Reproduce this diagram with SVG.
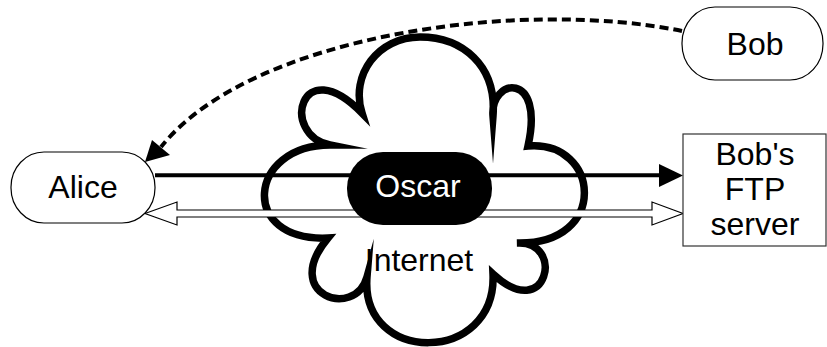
<svg xmlns="http://www.w3.org/2000/svg" width="827" height="347" viewBox="0 0 827 347">
<style>
.node{fill:#fff;stroke:#000;stroke-width:1.2}
.lbl{font-family:"Liberation Sans",Arial,sans-serif;font-size:32px;text-anchor:middle;fill:#000}
.cloud{fill:#fff;stroke:#000;stroke-width:7.5;stroke-linejoin:miter;stroke-miterlimit:20}
.head{fill:#000;stroke:none}
</style>
<rect width="827" height="347" fill="#fff"/>
<g id="internet">
<path class="cloud" d="M 362 113 C 350 75, 378 37, 420 37 C 462 37, 497 65, 493 116 C 490 78, 545 70, 528 146 C 600 140, 610 245, 517 243 C 565 240, 548 325, 493 274 C 497 365, 360 365, 367 277 C 355 320, 280 295, 328 238 C 238 242, 248 145, 330 145 C 280 135, 300 50, 362 113 Z"/>
<text class="lbl" x="419" y="271">Internet</text>
</g>
<g id="connectors">
<path d="M 682 31 C 520 -2, 250 35, 161 147" fill="none" stroke="#000" stroke-width="4" stroke-dasharray="9 5"/>
<polygon class="head" points="145,162 152,140 170,155"/>
<line x1="155" y1="175.3" x2="661" y2="175.3" stroke="#000" stroke-width="4"/>
<polygon class="head" points="659,164 683,175.5 659,187"/>
<path d="M 145 213.5 L 177 202 L 177 210 L 652 210 L 652 202 L 683 213.5 L 652 225 L 652 217 L 177 217 L 177 225 Z" fill="#fff" stroke="#000" stroke-width="1.2" stroke-linejoin="miter"/>
</g>
<g id="alice">
<rect class="node" x="11" y="152" width="144" height="71" rx="33" ry="35"/>
<text class="lbl" x="83" y="198">Alice</text>
</g>
<g id="bob">
<rect class="node" x="682" y="7" width="141" height="73" rx="33" ry="36"/>
<text class="lbl" x="755" y="55">Bob</text>
</g>
<g id="oscar">
<rect x="347" y="152" width="145" height="73" rx="36" ry="36" fill="#000"/>
<text class="lbl" x="418" y="197" style="fill:#fff">Oscar</text>
</g>
<g id="ftp">
<rect class="node" x="683" y="134" width="143" height="112" style="stroke:#333"/>
<text class="lbl" x="755" y="165">Bob's</text>
<text class="lbl" x="755" y="200">FTP</text>
<text class="lbl" x="755" y="235">server</text>
</g>
</svg>
